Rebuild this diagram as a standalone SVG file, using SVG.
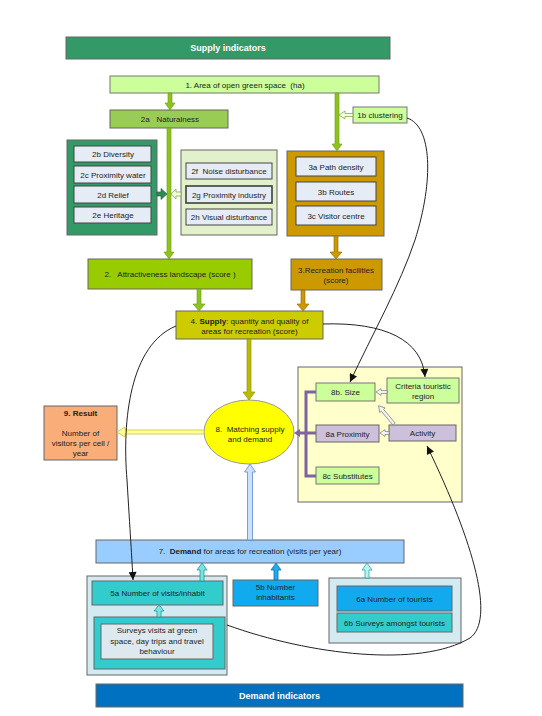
<svg xmlns="http://www.w3.org/2000/svg" width="542" height="716" viewBox="0 0 542 716">
<defs>
<marker id="ah" markerUnits="userSpaceOnUse" markerWidth="9" markerHeight="8" viewBox="0 0 10 10" refX="10" refY="5" orient="auto"><path d="M0,0 L10,5 L0,10 z" fill="#111"/></marker>
</defs>
<style>
text{font-family:"Liberation Sans",Arial,sans-serif;font-size:8px;fill:#222;text-anchor:middle}
.hd{font-size:9px;font-weight:bold;fill:#fff}
.b{font-weight:bold}
rect{stroke:#666;stroke-width:1}
.lg{fill:#ccff99;stroke:#777}
.inner{fill:#e6ecf6;stroke:#444}
.pu{fill:#ccc0da;stroke:#666}
.green{fill:#8dc21f;stroke:#6a9a10;stroke-width:0.6}
.brown{fill:#cc9900;stroke:#8a6600;stroke-width:0.6}
.olive{fill:#bbbb00;stroke:#888800;stroke-width:0.6}
.open{fill:#f2ffe6;stroke:#88aa44;stroke-width:0.8}
.opengr{fill:#f4f4f4;stroke:#888;stroke-width:0.8}
.teal{fill:#7fe0e0;stroke:#1a9a9a;stroke-width:0.8}
.curve{fill:none;stroke:#222;stroke-width:1;marker-end:url(#ah)}
</style>

<g id="supply-header"><rect x="66" y="37" width="324" height="22" fill="#339966" stroke="#1d4d33"/><text class="hd" x="228" y="51">Supply indicators</text></g>
<g id="n1"><rect class="lg" x="110" y="76" width="269" height="17"/><text x="245" y="88" xml:space="preserve">1. Area of open green space  (ha)</text></g>
<g id="n2a"><rect x="110" y="110" width="118" height="18" fill="#99cc55" stroke="#666"/><text x="170" y="122" xml:space="preserve">2a   Naturalness</text></g>
<g id="n1b"><rect class="lg" x="353" y="107" width="54" height="16"/><text x="380" y="118">1b clustering</text></g>

<g id="g2-positive"><rect x="67" y="140" width="90" height="95" fill="#339966" stroke="#555"/>
<g id="n2b"><rect class="inner" x="74" y="146" width="77" height="16"/><text x="113" y="157">2b Diversity</text></g>
<g id="n2c"><rect class="inner" x="74" y="166" width="77" height="17"/><text x="113" y="177.5">2c Proximity water</text></g>
<g id="n2d"><rect class="inner" x="74" y="186" width="77" height="17"/><text x="113" y="197.5">2d Relief</text></g>
<g id="n2e"><rect class="inner" x="74" y="207" width="77" height="16"/><text x="113" y="218">2e Heritage</text></g>
</g>
<g id="g2-negative"><rect x="181" y="150" width="96" height="85" fill="#e2f0cc" stroke="#888"/>
<g id="n2f"><rect class="inner" x="186" y="163" width="86" height="16"/><text x="229" y="174" xml:space="preserve">2f  Noise disturbance</text></g>
<g id="n2g"><rect class="inner" x="186" y="186" width="86" height="17" style="stroke:#333;stroke-width:1.5"/><text x="229" y="197.5">2g Proximity industry</text></g>
<g id="n2h"><rect class="inner" x="186" y="209" width="86" height="16"/><text x="229" y="220">2h Visual disturbance</text></g>
</g>
<g id="g3"><rect x="287" y="151" width="97" height="85" fill="#cc9900" stroke="#555"/>
<g id="n3a"><rect class="inner" x="296" y="157" width="80" height="19"/><text x="336" y="169.5">3a Path density</text></g>
<g id="n3b"><rect class="inner" x="296" y="182" width="80" height="19"/><text x="336" y="194.5">3b Routes</text></g>
<g id="n3c"><rect class="inner" x="296" y="206" width="80" height="19"/><text x="336" y="218.5">3c Visitor centre</text></g>
</g>
<g id="n3"><rect x="291" y="259" width="91" height="31" fill="#cc9900" stroke="#666"/><text x="336" y="273">3.Recreation facilities</text><text x="336" y="283">(score)</text></g>
<g id="n2"><rect x="88" y="259" width="164" height="30" fill="#99cc00" stroke="#666"/><text x="170" y="277" xml:space="preserve">2.   Attractiveness landscape (score )</text></g>
<g id="n4"><rect x="176" y="311" width="147" height="28" fill="#cccc00" stroke="#666"/><text x="249.5" y="324">4. <tspan class="b">Supply</tspan>: quantity and quality of</text><text x="249.5" y="334">areas for recreation (score)</text></g>

<g id="panel8"><rect x="298" y="367" width="164" height="135" fill="#ffffcc" stroke="#888"/></g>
<g id="n8b"><rect class="lg" x="316" y="383" width="59" height="18"/><text x="345.5" y="395">8b. Size</text></g>
<g id="criteria"><rect class="lg" x="387" y="378" width="72" height="25"/><text x="423" y="389">Criteria touristic</text><text x="423" y="399">region</text></g>
<g id="n8a"><rect class="pu" x="316" y="425" width="63" height="17"/><text x="347.5" y="436.5">8a Proximity</text></g>
<g id="activity"><rect class="pu" x="389" y="425" width="67" height="16"/><text x="422.5" y="436">Activity</text></g>
<g id="n8c"><rect class="lg" x="316" y="467" width="63" height="17"/><text x="347.5" y="478.5">8c Substitutes</text></g>

<g id="n8"><ellipse cx="249" cy="432" rx="45" ry="32" fill="#ffff00" stroke="#999"/><text x="250" y="432" xml:space="preserve">8.  Matching supply</text><text x="250" y="442">and demand</text></g>
<g id="n9"><rect x="44" y="406" width="73" height="54" fill="#f9ad78" stroke="#666"/><text class="b" x="80.5" y="416">9. Result</text><text x="80.5" y="436">Number of</text><text x="80.5" y="446">visitors per cell /</text><text x="80.5" y="456">year</text></g>

<g id="n7"><rect x="96" y="540" width="308" height="23" fill="#99ccff" stroke="#6f8fb0"/><text x="250" y="554" xml:space="preserve">7.  <tspan class="b">Demand</tspan> for areas for recreation (visits per year)</text></g>
<g id="g5"><rect x="87" y="576" width="140" height="99" fill="#d3eaf0" stroke="#777"/>
<g id="n5a"><rect x="92" y="581" width="131" height="24" fill="#33cccc" stroke="#555"/><text x="157.5" y="596">5a Number of visits/inhabit</text></g>
<g id="g5-inner"><rect x="94" y="617" width="131" height="52" fill="#33cccc" stroke="#555"/>
<g id="surveys"><rect x="101" y="624" width="112" height="35" fill="#dde9ee" stroke="#555"/><text x="157" y="633">Surveys visits at green</text><text x="157" y="644">space, day trips and travel</text><text x="157" y="654">behaviour</text></g>
</g></g>
<g id="n5b"><rect x="233" y="580" width="85" height="26" fill="#11aaee" stroke="#555"/><text x="275.5" y="590">5b Number</text><text x="275.5" y="600">inhabitants</text></g>
<g id="g6"><rect x="329" y="578" width="132" height="65" fill="#d3eaf0" stroke="#777"/>
<g id="n6a"><rect x="337" y="586" width="115" height="25" fill="#11aaee" stroke="#555"/><text x="394.5" y="601.5">6a Number of tourists</text></g>
<g id="n6b"><rect x="337" y="613" width="115" height="19" fill="#33cccc" stroke="#555"/><text x="394.5" y="625.5">6b Surveys amongst tourists</text></g>
</g>
<g id="demand-header"><rect x="96" y="684" width="367" height="23" fill="#0070c0" stroke="#333"/><text class="hd" x="279.5" y="699">Demand indicators</text></g>

<g id="connectors">
<polygon class="green" points="168,93 172,93 172,103 175,103 170,110 165,103 168,103"/>
<polygon class="green" points="335,93 339,93 339,144 342,144 337,151 332,144 335,144"/>
<polygon class="green" points="167,128 171,128 171,252 174,252 169,259 164,252 167,252"/>
<polygon class="green" points="197,289 201,289 201,304 205,304 199,311 193,304 197,304"/>
<polygon class="brown" points="334,236 338,236 338,252 342,252 336,259 330,252 334,252"/>
<polygon class="brown" points="301,290 305,290 305,304 309,304 303,311 297,304 301,304"/>
<polygon class="olive" points="247,339 251,339 251,392 255,392 249,400 243,392 247,392"/>
<polygon class="open" points="353,113.5 345,113.5 345,111 339,115 345,119 345,116.5 353,116.5"/>
<polygon fill="#2e8b57" stroke="#1d5c3a" stroke-width="0.6" points="157,192 161,192 161,188.5 167,194 161,199.5 161,196 157,196"/>
<polygon class="open" points="181,192 176,192 176,189 171,194 176,199 176,196 181,196"/>
<polygon fill="#ffff99" stroke="#c8c830" stroke-width="0.8" points="204,430 125,430 125,427 117,432 125,437 125,434 204,434"/>
<polygon fill="#cce0ff" stroke="#5b8bd0" stroke-width="0.8" points="247.5,540 247.5,472 244.5,472 250,464 255.5,472 252.5,472 252.5,540"/>
<path d="M316,392 H306 V476 H316 M306,433 H316 M306,433 H299" fill="none" stroke="#7f63a1" stroke-width="3"/>
<polygon fill="#7f63a1" points="300,429 300,437 294,433"/>
<polygon class="opengr" points="387,390.5 381,390.5 381,388.5 376,392 381,395.5 381,393.5 387,393.5"/>
<polygon class="opengr" points="389,431.5 385,431.5 385,429.5 380,433 385,436.5 385,434.5 389,434.5"/>
<polygon class="opengr" transform="translate(394,424) rotate(229.9)" points="0,-1.5 18,-1.5 18,-3.5 24,0 18,3.5 18,1.5 0,1.5"/>
<polygon class="teal" points="157,617 157,611 154,611 159,605 164,611 161,611 161,617"/>
<polygon class="teal" points="200,581 200,570 197,570 202,563 207,570 204,570 204,581"/>
<polygon fill="#22aaee" stroke="#0077aa" stroke-width="0.8" points="274,580 274,570 271,570 276,563 281,570 278,570 278,580"/>
<polygon fill="#bff0f0" stroke="#22aaaa" stroke-width="0.8" points="365,578 365,570 362,570 367,563 372,570 369,570 369,578"/>
<path class="curve" d="M407,118 C432,126 434,180 415,240 C400,285 372,335 350,382"/>
<path class="curve" d="M323,324 C385,322 422,340 425,377"/>
<path class="curve" d="M176,326 C130,345 122,420 127,480 C130,530 132,560 133,580"/>
<path class="curve" d="M227,625 C310,655 420,668 470,638 C495,620 475,545 427,446"/>
</g>
</svg>
